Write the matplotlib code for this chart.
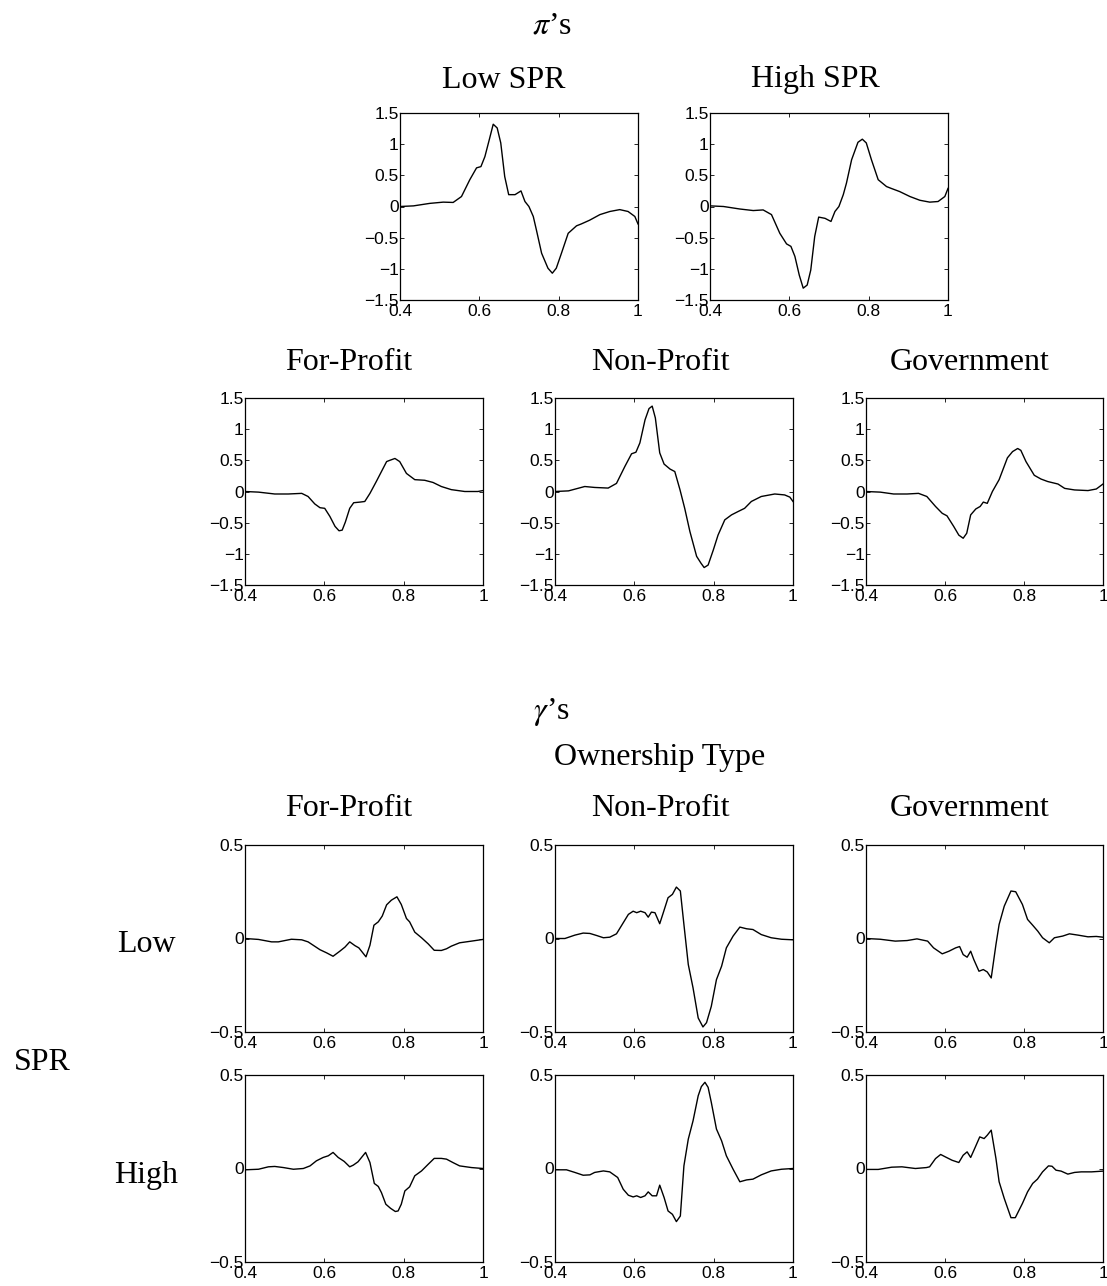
import matplotlib
matplotlib.use('Agg')
import matplotlib.pyplot as plt

# pi's, by SPR level
pi_low_x = [0.4, 0.434, 0.475, 0.509, 0.534, 0.555, 0.576, 0.593, 0.604, 0.614, 0.625, 0.635,
            0.645, 0.654, 0.664, 0.674, 0.690, 0.705, 0.715, 0.725, 0.736, 0.744, 0.757, 0.773,
            0.784, 0.794, 0.807, 0.824, 0.845, 0.857, 0.878, 0.904, 0.929, 0.954, 0.975, 0.992, 1.0]
pi_low_y = [0.0, 0.01, 0.05, 0.07, 0.065, 0.16, 0.43, 0.62, 0.64, 0.80, 1.07, 1.32,
            1.26, 1.02, 0.48, 0.19, 0.19, 0.25, 0.08, 0.0, -0.16, -0.38, -0.75, -0.99,
            -1.07, -0.99, -0.75, -0.43, -0.31, -0.28, -0.22, -0.13, -0.08, -0.05, -0.08, -0.16, -0.28]

pi_high_x = pi_low_x
pi_high_y = [0.01, 0.0, -0.04, -0.065, -0.055, -0.13, -0.43, -0.60, -0.64, -0.80, -1.10, -1.31,
             -1.26, -1.02, -0.48, -0.17, -0.19, -0.24, -0.08, 0.0, 0.19, 0.375, 0.75, 1.03,
             1.08, 1.02, 0.75, 0.43, 0.32, 0.29, 0.24, 0.16, 0.10, 0.07, 0.08, 0.16, 0.29]

# pi's, by ownership type
pi_fp_x = [0.4, 0.434, 0.475, 0.509, 0.543, 0.559, 0.576, 0.589, 0.601, 0.614, 0.627, 0.637,
           0.645, 0.653, 0.664, 0.674, 0.690, 0.702, 0.715, 0.731, 0.744, 0.757, 0.765, 0.778,
           0.790, 0.807, 0.828, 0.853, 0.874, 0.895, 0.920, 0.954, 0.987, 1.0]
pi_fp_y = [0.0, -0.01, -0.04, -0.04, -0.03, -0.08, -0.20, -0.26, -0.27, -0.40, -0.56, -0.63,
           -0.62, -0.49, -0.27, -0.18, -0.17, -0.16, -0.03, 0.16, 0.32, 0.48, 0.50, 0.53,
           0.48, 0.29, 0.19, 0.18, 0.145, 0.08, 0.03, 0.0, 0.0, 0.015]

pi_np_x = [0.4, 0.434, 0.475, 0.5, 0.534, 0.555, 0.576, 0.593, 0.604, 0.614, 0.627, 0.637,
           0.645, 0.653, 0.664, 0.675, 0.690, 0.702, 0.715, 0.727, 0.740, 0.757, 0.768, 0.776,
           0.786, 0.799, 0.811, 0.828, 0.845, 0.862, 0.878, 0.895, 0.920, 0.954, 0.979, 0.992, 1.0]
pi_np_y = [0.0, 0.01, 0.08, 0.065, 0.055, 0.13, 0.40, 0.605, 0.63, 0.78, 1.15, 1.33,
           1.37, 1.18, 0.62, 0.44, 0.36, 0.32, 0.03, -0.27, -0.64, -1.04, -1.15, -1.22,
           -1.18, -0.94, -0.70, -0.455, -0.375, -0.32, -0.27, -0.16, -0.08, -0.04, -0.055, -0.09, -0.16]

pi_gov_x = [0.4, 0.436, 0.47, 0.504, 0.533, 0.554, 0.576, 0.593, 0.605, 0.622, 0.635, 0.646,
            0.655, 0.665, 0.678, 0.689, 0.697, 0.707, 0.720, 0.737, 0.758, 0.771, 0.784, 0.792,
            0.805, 0.826, 0.843, 0.860, 0.886, 0.903, 0.928, 0.962, 0.983, 1.0]
pi_gov_y = [0.0, -0.01, -0.04, -0.04, -0.03, -0.08, -0.24, -0.35, -0.39, -0.56, -0.70, -0.75,
            -0.67, -0.375, -0.28, -0.24, -0.17, -0.19, 0.0, 0.19, 0.54, 0.64, 0.69, 0.66,
            0.48, 0.26, 0.20, 0.16, 0.12, 0.05, 0.025, 0.015, 0.04, 0.12]

# gamma's, low SPR row
g_low_fp_x = [0.4, 0.434, 0.467, 0.484, 0.517, 0.543, 0.559, 0.589, 0.606, 0.622, 0.639, 0.652,
              0.664, 0.677, 0.687, 0.705, 0.715, 0.725, 0.736, 0.746, 0.757, 0.769, 0.783, 0.794,
              0.807, 0.815, 0.828, 0.845, 0.862, 0.877, 0.895, 0.908, 0.920, 0.941, 0.971, 1.0]
g_low_fp_y = [0.0, -0.005, -0.018, -0.018, -0.004, -0.007, -0.018, -0.06, -0.077, -0.095, -0.068, -0.046,
              -0.018, -0.038, -0.05, -0.098, -0.036, 0.071, 0.089, 0.12, 0.18, 0.205, 0.223, 0.182,
              0.107, 0.089, 0.034, 0.004, -0.029, -0.063, -0.064, -0.055, -0.041, -0.023, -0.014, -0.005]

g_low_np_x = [0.4, 0.425, 0.45, 0.471, 0.488, 0.505, 0.522, 0.538, 0.555, 0.572, 0.585, 0.597,
              0.606, 0.616, 0.627, 0.635, 0.643, 0.652, 0.664, 0.673, 0.685, 0.696, 0.706, 0.716,
              0.725, 0.736, 0.748, 0.761, 0.773, 0.782, 0.794, 0.807, 0.820, 0.832, 0.849, 0.866,
              0.883, 0.899, 0.920, 0.945, 0.971, 1.0]
g_low_np_y = [0.0, 0.0, 0.018, 0.029, 0.027, 0.016, 0.004, 0.007, 0.025, 0.084, 0.129, 0.146,
              0.138, 0.146, 0.138, 0.114, 0.141, 0.138, 0.079, 0.138, 0.218, 0.236, 0.275, 0.254,
              0.075, -0.139, -0.264, -0.425, -0.473, -0.45, -0.363, -0.22, -0.148, -0.05, 0.013, 0.061,
              0.052, 0.048, 0.021, 0.004, -0.004, -0.007]

g_low_gov_x = [0.4, 0.436, 0.474, 0.504, 0.529, 0.556, 0.571, 0.593, 0.610, 0.627, 0.637, 0.646,
               0.656, 0.665, 0.673, 0.686, 0.697, 0.707, 0.717, 0.729, 0.737, 0.750, 0.767, 0.779,
               0.796, 0.809, 0.822, 0.835, 0.847, 0.864, 0.877, 0.898, 0.915, 0.937, 0.962, 0.983, 1.0]
g_low_gov_y = [0.0, -0.004, -0.014, -0.011, -0.002, -0.014, -0.05, -0.082, -0.068, -0.05, -0.043, -0.086,
               -0.1, -0.068, -0.113, -0.175, -0.166, -0.179, -0.211, -0.032, 0.075, 0.173, 0.254, 0.25,
               0.182, 0.102, 0.071, 0.039, 0.004, -0.023, 0.004, 0.013, 0.025, 0.018, 0.009, 0.011, 0.007]

# gamma's, high SPR row
g_high_fp_x = [0.4, 0.434, 0.459, 0.475, 0.497, 0.522, 0.547, 0.564, 0.580, 0.597, 0.610, 0.622,
               0.635, 0.650, 0.664, 0.673, 0.685, 0.704, 0.715, 0.726, 0.736, 0.744, 0.755, 0.767,
               0.779, 0.786, 0.794, 0.803, 0.815, 0.828, 0.845, 0.862, 0.877, 0.895, 0.908, 0.924,
               0.941, 0.971, 1.0]
g_high_fp_y = [-0.007, -0.004, 0.009, 0.011, 0.005, -0.004, 0.0, 0.014, 0.041, 0.059, 0.068, 0.086,
               0.059, 0.038, 0.009, 0.018, 0.036, 0.086, 0.032, -0.08, -0.096, -0.129, -0.191, -0.213,
               -0.23, -0.227, -0.191, -0.12, -0.098, -0.039, -0.013, 0.023, 0.054, 0.054, 0.05, 0.032,
               0.014, 0.005, 0.0]

g_high_np_x = [0.4, 0.429, 0.45, 0.471, 0.488, 0.5, 0.522, 0.538, 0.558, 0.572, 0.585, 0.597,
               0.606, 0.616, 0.627, 0.635, 0.645, 0.656, 0.664, 0.675, 0.685, 0.696, 0.706, 0.716,
               0.725, 0.736, 0.748, 0.761, 0.769, 0.778, 0.786, 0.794, 0.807, 0.820, 0.832, 0.849,
               0.866, 0.883, 0.899, 0.920, 0.945, 0.971, 1.0]
g_high_np_y = [-0.007, -0.007, -0.021, -0.036, -0.034, -0.021, -0.013, -0.018, -0.048, -0.111, -0.143, -0.152,
               -0.146, -0.155, -0.146, -0.125, -0.146, -0.146, -0.089, -0.155, -0.227, -0.245, -0.284, -0.254,
               0.014, 0.157, 0.255, 0.389, 0.438, 0.461, 0.434, 0.354, 0.211, 0.148, 0.068, -0.004,
               -0.071, -0.061, -0.057, -0.034, -0.013, -0.004, 0.0]

g_high_gov_x = [0.4, 0.431, 0.465, 0.491, 0.525, 0.553, 0.561, 0.576, 0.589, 0.601, 0.618, 0.635,
                0.646, 0.656, 0.665, 0.677, 0.688, 0.699, 0.707, 0.717, 0.729, 0.737, 0.750, 0.767,
                0.778, 0.796, 0.809, 0.822, 0.834, 0.847, 0.862, 0.871, 0.881, 0.894, 0.911, 0.928,
                0.945, 0.971, 1.0]
g_high_gov_y = [-0.005, -0.005, 0.007, 0.009, 0.0, 0.005, 0.009, 0.053, 0.075, 0.062, 0.044, 0.032,
                0.071, 0.089, 0.059, 0.116, 0.169, 0.16, 0.178, 0.205, 0.053, -0.071, -0.16, -0.263,
                -0.263, -0.187, -0.125, -0.08, -0.057, -0.018, 0.014, 0.012, -0.009, -0.014, -0.03, -0.021,
                -0.018, -0.018, -0.014]

x_ticks = [0.4, 0.6, 0.8, 1.0]
x_labels = ['0.4', '0.6', '0.8', '1']
pi_ticks = [-1.5, -1, -0.5, 0, 0.5, 1, 1.5]
pi_labels = ['\u22121.5', '\u22121', '\u22120.5', '0', '0.5', '1', '1.5']
g_ticks = [-0.5, 0, 0.5]
g_labels = ['\u22120.5', '0', '0.5']

W, H = 1107, 1286
fig = plt.figure(figsize=(W / 100, H / 100), dpi=100)

serif = 'Liberation Serif'
plt.rcParams['mathtext.fontset'] = 'stix'


def add_panel(left, top, right, bottom, x, y, ticks, labels):
    ax = fig.add_axes([left / W, 1 - bottom / H, (right - left) / W, (bottom - top) / H])
    ax.plot(x, y, color='black', linewidth=1.0)
    ax.set_xlim(0.4, 1.0)
    ax.set_ylim(ticks[0], ticks[-1])
    ax.set_xticks(x_ticks)
    ax.set_xticklabels(x_labels)
    ax.set_yticks(ticks)
    ax.set_yticklabels(labels)
    ax.tick_params(direction='in', length=3, width=0.6, top=True, right=True,
                   labelsize=12.5)
    ax.tick_params(axis='x', pad=3)
    ax.tick_params(axis='y', pad=1)
    for lab in ax.get_xticklabels() + ax.get_yticklabels():
        lab.set_family('Liberation Sans')
    for s in ax.spines.values():
        s.set_linewidth(0.9)
    return ax


def label(x, y, s, size=23):
    fig.text(x / W, 1 - y / H, s, ha='center', va='center', family=serif, fontsize=size)


# pi panels
add_panel(400, 113, 638, 300, pi_low_x, pi_low_y, pi_ticks, pi_labels)
add_panel(710, 113, 948, 300, pi_high_x, pi_high_y, pi_ticks, pi_labels)
add_panel(245, 398, 483, 585, pi_fp_x, pi_fp_y, pi_ticks, pi_labels)
add_panel(555, 398, 793, 585, pi_np_x, pi_np_y, pi_ticks, pi_labels)
add_panel(866, 398, 1103, 585, pi_gov_x, pi_gov_y, pi_ticks, pi_labels)

# gamma panels
add_panel(245, 845, 483, 1032, g_low_fp_x, g_low_fp_y, g_ticks, g_labels)
add_panel(555, 845, 793, 1032, g_low_np_x, g_low_np_y, g_ticks, g_labels)
add_panel(866, 845, 1103, 1032, g_low_gov_x, g_low_gov_y, g_ticks, g_labels)
add_panel(245, 1075, 483, 1262, g_high_fp_x, g_high_fp_y, g_ticks, g_labels)
add_panel(555, 1075, 793, 1262, g_high_np_x, g_high_np_y, g_ticks, g_labels)
add_panel(866, 1075, 1103, 1262, g_high_gov_x, g_high_gov_y, g_ticks, g_labels)

label(552, 26, '$\\pi$\u2019s')
label(504, 80, 'Low SPR')
label(815, 80, 'High SPR')
label(349, 362, 'For-Profit')
label(660, 362, 'Non-Profit')
label(970, 362, 'Government')

label(552, 712, '$\\gamma$\u2019s')
label(660, 757, 'Ownership Type')
label(349, 808, 'For-Profit')
label(660, 808, 'Non-Profit')
label(970, 808, 'Government')
label(146, 945, 'Low')
label(146, 1175, 'High')
label(42, 1062, 'SPR')

fig.savefig('out.png', dpi=100)
